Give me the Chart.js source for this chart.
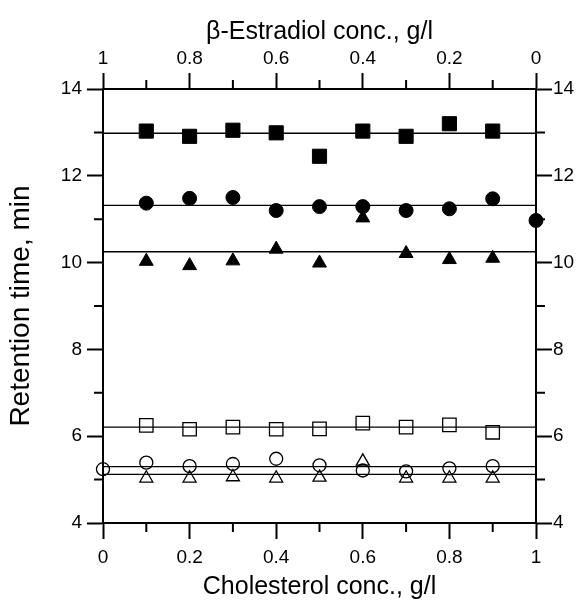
<!DOCTYPE html>
<html>
<head>
<meta charset="utf-8">
<script src="https://cdn.jsdelivr.net/npm/chart.js@4"></script>
<style>
  body { margin: 0; background: #fff; }
  #wrap { width: 582px; height: 603px; }
</style>
</head>
<body>
<div id="wrap"><canvas id="chart"></canvas></div>
<script>
// cholesterol concentration, g/l (bottom axis)
const xAll = [0, 0.1, 0.2, 0.3, 0.4, 0.5, 0.6, 0.7, 0.8, 0.9, 1];
const xInner = xAll.slice(1, 10);

// retention times, min
const filledSquares = [13.03, 12.91, 13.05, 12.99, 12.45, 13.03, 12.91, 13.2, 13.03];
const filledCircles = [11.37, 11.48, 11.5, 11.2, 11.29, 11.29, 11.2, 11.24, 11.47, 10.97];
const filledTriangles = [10.03, 9.93, 10.04, 10.31, 9.99, 11.03, 10.21, 10.07, 10.1];
const openSquares = [6.25, 6.16, 6.21, 6.16, 6.17, 6.3, 6.21, 6.26, 6.09];
const openCircles = [5.24, 5.39, 5.31, 5.36, 5.48, 5.33, 5.21, 5.19, 5.26, 5.31];
const openTriangles = [5.03, 5.03, 5.06, 5.03, 5.05, 5.42, 5.03, 5.03, 5.03];

// mean levels (horizontal lines)
const meanLevels = [12.98, 11.32, 10.25, 6.21, 5.30, 5.12];

const xMinor = [0.1, 0.3, 0.5, 0.7, 0.9];
const yMinor = [5, 7, 9, 11, 13];

const font = 'Liberation Sans, Arial, sans-serif';

function pts(xs, ys) {
    return ys.map((y, i) => ({ x: xs[i], y }));
}

function markers(data, style, filled, radius) {
    return {
        type: 'scatter',
        data,
        pointStyle: style,
        pointRadius: radius,
        pointHoverRadius: radius,
        pointBorderWidth: filled ? 1 : 1.3,
        pointBorderColor: '#000',
        pointBackgroundColor: filled ? '#000' : 'rgba(0,0,0,0)',
        showLine: false,
        clip: false,
        order: 0
    };
}

const datasets = [];
meanLevels.forEach(level => {
    datasets.push({
        type: 'line',
        data: [{ x: 0, y: level }, { x: 1, y: level }],
        borderColor: '#000',
        borderWidth: 1.3,
        pointRadius: 0,
        order: 10
    });
});
datasets.push(markers(pts(xInner, filledSquares), 'rect', true, 10));
datasets.push(markers(pts(xAll.slice(1), filledCircles), 'circle', true, 7));
datasets.push(markers(pts(xInner, filledTriangles), 'triangle', true, 8));
datasets.push(markers(pts(xInner, openSquares), 'rect', false, 9.5));
datasets.push(markers(pts(xAll.slice(0, 10), openCircles), 'circle', false, 6.5));
datasets.push(markers(pts(xInner, openTriangles), 'triangle', false, 7.5));

const minorLen = 9;
const minorTicks = {
    id: 'minorTicks',
    afterDraw(chart) {
        const ctx = chart.ctx;
        const { left, right, top, bottom } = chart.chartArea;
        ctx.save();
        ctx.strokeStyle = '#000';
        ctx.lineWidth = 2;
        ctx.beginPath();
        xMinor.forEach(v => {
            const px = chart.scales.x.getPixelForValue(v);
            ctx.moveTo(px, bottom); ctx.lineTo(px, bottom + minorLen);
            const px2 = chart.scales.x2.getPixelForValue(1 - v);
            ctx.moveTo(px2, top); ctx.lineTo(px2, top - minorLen);
        });
        yMinor.forEach(v => {
            const py = chart.scales.y.getPixelForValue(v);
            ctx.moveTo(left, py); ctx.lineTo(left - minorLen, py);
            const py2 = chart.scales.y2.getPixelForValue(v);
            ctx.moveTo(right, py2); ctx.lineTo(right + minorLen, py2);
        });
        ctx.stroke();
        ctx.restore();
    }
};

function axisGrid() {
    return { drawOnChartArea: false, drawTicks: true, tickLength: 16, tickWidth: 2, tickColor: '#000' };
}

function fmt(v) {
    return String(Math.round(v * 10) / 10);
}

new Chart(document.getElementById('chart'), {
    data: { datasets },
    plugins: [minorTicks],
    options: {
        responsive: true,
        maintainAspectRatio: false,
        animation: false,
        layout: { padding: 0 },
        plugins: { legend: { display: false }, tooltip: { enabled: false } },
        scales: {
            x: {
                type: 'linear', position: 'bottom', min: 0, max: 1,
                ticks: { stepSize: 0.2, padding: 7, color: '#000', callback: fmt,
                         font: { family: font, size: 19 } },
                grid: axisGrid(),
                border: { color: '#000', width: 2 },
                title: { display: true, text: 'Cholesterol conc., g/l', color: '#000',
                         font: { family: font, size: 25 }, padding: { top: 0, bottom: 1 } },
                afterFit: s => { s.height = 80; }
            },
            x2: {
                type: 'linear', position: 'top', min: 0, max: 1, reverse: true,
                ticks: { stepSize: 0.2, padding: 3, color: '#000', callback: fmt,
                         font: { family: font, size: 19 } },
                grid: axisGrid(),
                border: { color: '#000', width: 2 },
                title: { display: true, text: 'β-Estradiol conc., g/l', color: '#000',
                         font: { family: font, size: 25 }, padding: { top: 17, bottom: 0 } },
                afterFit: s => { s.height = 89; }
            },
            y: {
                type: 'linear', position: 'left', min: 4, max: 14,
                ticks: { stepSize: 2, padding: 5, color: '#000', font: { family: font, size: 19 } },
                grid: axisGrid(),
                border: { color: '#000', width: 2 },
                title: { display: true, text: 'Retention time, min', color: '#000',
                         font: { family: font, size: 28 }, padding: { top: 4, bottom: 0 } },
                afterFit: s => { s.width = 103; }
            },
            y2: {
                type: 'linear', position: 'right', min: 4, max: 14,
                ticks: { stepSize: 2, padding: 1, color: '#000', font: { family: font, size: 19 } },
                grid: axisGrid(),
                border: { color: '#000', width: 2 },
                afterFit: s => { s.width = 46; }
            }
        }
    }
});
</script>
</body>
</html>
